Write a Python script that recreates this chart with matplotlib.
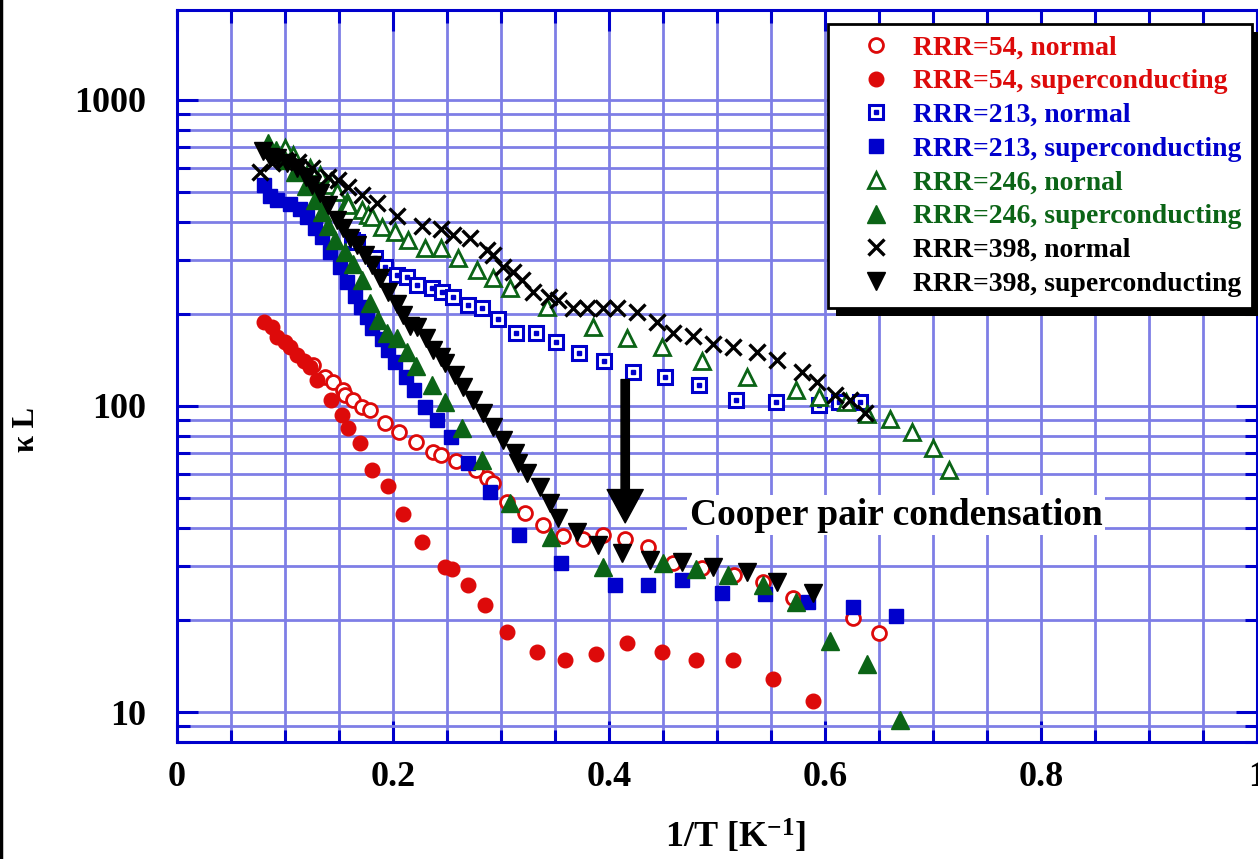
import matplotlib
matplotlib.use('Agg')
import matplotlib.pyplot as plt
from matplotlib.lines import Line2D
from matplotlib.patches import Rectangle
from matplotlib.ticker import MultipleLocator, LogLocator, FixedLocator, NullFormatter, FixedFormatter

plt.rcParams['font.family'] = 'Liberation Serif'
plt.rcParams['font.weight'] = 'bold'
plt.rcParams['mathtext.fontset'] = 'custom'
plt.rcParams['mathtext.rm'] = 'Liberation Serif:bold'
plt.rcParams['mathtext.bf'] = 'Liberation Serif:bold'
plt.rcParams['mathtext.default'] = 'bf'

# RRR=54
x54n = [0.126, 0.137, 0.144, 0.154, 0.156, 0.163, 0.171, 0.179, 0.193, 0.206, 0.221, 0.237, 0.244, 0.258, 0.277, 0.287,
        0.293, 0.306, 0.322, 0.339, 0.357, 0.376, 0.394, 0.415, 0.436, 0.459, 0.486, 0.516, 0.543, 0.570, 0.626, 0.650]
k54n = [136, 124, 120, 113, 109, 105, 99, 97, 88, 82, 76, 71, 69, 66, 62, 58,
        56, 48.5, 44.7, 40.8, 37.6, 36.7, 37.8, 36.7, 34.6, 30.7, 29.6, 28.1, 26.6, 23.6, 20.3, 18.1]
x54s = [0.081, 0.088, 0.093, 0.100, 0.105, 0.111, 0.118, 0.123, 0.130, 0.143, 0.153, 0.158, 0.169, 0.181, 0.195, 0.209,
        0.227, 0.248, 0.255, 0.269, 0.285, 0.306, 0.333, 0.359, 0.388, 0.417, 0.449, 0.481, 0.515, 0.552, 0.589]
k54s = [188, 181, 168, 162, 156, 147, 140, 134, 122, 105, 93.5, 84.8, 75.7, 61.8, 54.8, 44.4,
        35.9, 29.8, 29.3, 26.0, 22.4, 18.2, 15.7, 14.8, 15.5, 16.8, 15.7, 14.8, 14.8, 12.8, 10.9]

# RRR=213
x213n = [0.162, 0.167, 0.183, 0.193, 0.204, 0.213, 0.222, 0.236, 0.245, 0.256, 0.269, 0.282, 0.297, 0.314, 0.332, 0.351,
         0.372, 0.395, 0.422, 0.452, 0.483, 0.518, 0.555, 0.594, 0.613, 0.632]
k213n = [349, 343, 305, 285, 268, 264, 249, 243, 236, 227, 214, 209, 192, 173, 173, 162,
         149, 140, 129, 124, 117, 105, 103, 101, 103, 103]
x213s = [0.081, 0.086, 0.093, 0.105, 0.114, 0.120, 0.128, 0.134, 0.142, 0.151, 0.157, 0.165, 0.170, 0.176, 0.181, 0.190,
         0.195, 0.202, 0.212, 0.219, 0.230, 0.241, 0.254, 0.269, 0.290, 0.317, 0.356, 0.406, 0.436, 0.468, 0.505, 0.544,
         0.584, 0.626, 0.666]
k213s = [527, 485, 471, 457, 440, 415, 382, 357, 319, 285, 254, 229, 211, 195, 180, 166,
         152, 139, 124, 113, 99, 90, 79, 65, 52.4, 37.8, 30.7, 26.0, 26.0, 27.0, 24.5, 24.3,
         22.9, 22.0, 20.6]

# RRR=246
x246n = [0.100, 0.107, 0.123, 0.132, 0.142, 0.148, 0.157, 0.158, 0.171, 0.177, 0.181, 0.190, 0.202, 0.214, 0.230, 0.244,
         0.260, 0.278, 0.293, 0.308, 0.343, 0.385, 0.417, 0.449, 0.486, 0.528, 0.573, 0.594, 0.619, 0.639, 0.660, 0.681,
         0.700, 0.715]
k246n = [697, 661, 600, 569, 527, 500, 464, 454, 437, 421, 415, 385, 370, 349, 328, 328,
         305, 278, 262, 243, 211, 181, 167, 156, 140, 124, 113, 107, 103, 94, 91, 82,
         73, 62]
x246s = [0.084, 0.092, 0.100, 0.109, 0.119, 0.128, 0.134, 0.140, 0.146, 0.156, 0.163, 0.171, 0.179, 0.186, 0.194, 0.204,
         0.213, 0.221, 0.236, 0.248, 0.264, 0.282, 0.308, 0.346, 0.394, 0.450, 0.481, 0.510, 0.543, 0.573, 0.605, 0.639,
         0.669]
k246s = [723, 687, 637, 582, 523, 471, 431, 388, 349, 319, 291, 258, 217, 191, 173, 167,
         150, 135, 117, 103, 84.8, 66.7, 48.2, 37.3, 29.8, 30.7, 29.3, 28.1, 26.0, 22.9, 17.1, 14.3,
         9.4]

# RRR=398
x398n = [0.077, 0.088, 0.100, 0.112, 0.125, 0.140, 0.149, 0.158, 0.171, 0.185, 0.204, 0.227, 0.244, 0.256, 0.271, 0.287,
         0.293, 0.302, 0.311, 0.319, 0.330, 0.344, 0.353, 0.367, 0.380, 0.394, 0.407, 0.426, 0.444, 0.459, 0.478, 0.496,
         0.515, 0.537, 0.556, 0.579, 0.593, 0.609, 0.623, 0.637]
k398n = [582, 622, 637, 627, 600, 560, 548, 520, 490, 461, 418, 388, 379, 362, 354, 323,
         311, 285, 274, 258, 236, 227, 222, 209, 209, 209, 209, 203, 188, 173, 169, 160,
         156, 150, 141, 129, 120, 109, 105, 95]
x398s = [0.080, 0.086, 0.093, 0.102, 0.111, 0.119, 0.125, 0.132, 0.140, 0.148, 0.154, 0.160, 0.167, 0.174, 0.181, 0.188,
         0.195, 0.204, 0.209, 0.216, 0.222, 0.231, 0.237, 0.244, 0.248, 0.257, 0.265, 0.274, 0.283, 0.293, 0.302, 0.313,
         0.316, 0.324, 0.336, 0.345, 0.353, 0.370, 0.390, 0.412, 0.438, 0.468, 0.496, 0.528, 0.556, 0.589]
k398s = [681, 651, 646, 622, 600, 560, 527, 497, 454, 405, 382, 354, 336, 311, 289, 262,
         236, 215, 198, 183, 181, 167, 152, 145, 138, 126, 115, 105, 95, 85.4, 77.4, 70.2,
         65.2, 60.4, 54.3, 48.2, 43.1, 38.7, 35.2, 33.1, 31.4, 30.9, 29.8, 28.7, 26.6, 24.5]

red = '#dd0a0a'
blue = '#0000cc'
green = '#0b6416'
gridc = '#7e7ee6'

fig = plt.figure(figsize=(12.58, 8.59), dpi=100)
ax = fig.add_axes([177 / 1258, 117 / 859, 1080 / 1258, 732 / 859])
ax.set_yscale('log')
ax.set_xlim(0, 1)
ax.set_ylim(7.98, 1968)

h1, = ax.plot(x54n, k54n, 'o', ms=10, mfc='white', mec=red, mew=2, ls='none')
h2, = ax.plot(x54s, k54s, 'o', ms=10.5, mfc=red, mec=red, ls='none')
h3a, = ax.plot(x213n, k213n, 's', ms=10.5, mfc='white', mec=blue, mew=2.2, ls='none')
h3b, = ax.plot(x213n, k213n, 's', ms=2.8, mfc=blue, mec=blue, ls='none')
h4, = ax.plot(x213s, k213s, 's', ms=10.5, mfc=blue, mec=blue, ls='none')
h5, = ax.plot(x246n, k246n, '^', ms=11, mfc='white', mec=green, mew=2, ls='none')
h6, = ax.plot(x246s, k246s, '^', ms=13, mfc=green, mec=green, ls='none')
h7, = ax.plot(x398n, k398n, 'x', ms=11, mec='black', mew=2.4, ls='none')
h8, = ax.plot(x398s, k398s, 'v', ms=13, mfc='black', mec='black', ls='none')

# axes styling
for s in ax.spines.values():
    s.set_color('#0000cc')
    s.set_linewidth(2.2)
ax.xaxis.set_major_locator(FixedLocator([0, 0.2, 0.4, 0.6, 0.8, 1.0]))
ax.xaxis.set_major_formatter(FixedFormatter(['0', '0.2', '0.4', '0.6', '0.8', '1']))
ax.xaxis.set_minor_locator(MultipleLocator(0.05))
ax.yaxis.set_major_locator(FixedLocator([10, 100, 1000]))
ax.yaxis.set_major_formatter(FixedFormatter(['10', '100', '1000']))
ax.yaxis.set_minor_locator(LogLocator(base=10, subs=[2, 3, 4, 5, 6, 7, 8, 9]))
ax.yaxis.set_minor_formatter(NullFormatter())
ax.tick_params(which='both', direction='in', color='#0000cc', top=True, right=True, labelsize=26)
ax.tick_params(which='major', length=15, width=2.2)
ax.tick_params(which='minor', length=9, width=2.2)
ax.tick_params(axis='x', pad=14)
ax.tick_params(axis='y', pad=22)
ax.grid(True, which='both', color=gridc, lw=2)
ax.set_axisbelow(True)

ax.set_xlabel('1/T [K$^{-1}$]', fontsize=26, fontweight='bold')
ax.xaxis.set_label_coords(0.517, -0.104)
fig.text(27 / 1258, 1 - 430 / 859, 'κ L', rotation=90, ha='center', va='center', fontsize=22, fontweight='bold')

# annotation
ax.annotate('', xy=(0.415, 41.5), xytext=(0.415, 122),
            arrowprops=dict(facecolor='black', edgecolor='black', width=6, headwidth=26, headlength=24))
ax.text(0.666, 44.0, 'Cooper pair condensation', fontsize=27, fontweight='bold', ha='center', va='center',
        bbox=dict(facecolor='white', edgecolor='none', pad=2))

handles = [h1, h2, (h3a, h3b), h4, h5, h6, h7, h8]
labels = ['RRR=54, normal', 'RRR=54, superconducting', 'RRR=213, normal', 'RRR=213, superconducting',
          'RRR=246, nornal', 'RRR=246, superconducting', 'RRR=398, normal', 'RRR=398, superconducting']
colors = [red, red, blue, blue, green, green, 'black', 'black']
leg = ax.legend(handles, labels, loc='upper right', bbox_to_anchor=(0.9954, 0.981), borderaxespad=0,
                prop={'family': 'Liberation Serif', 'weight': 'bold', 'size': 20}, numpoints=1,
                handlelength=2.65, handletextpad=0, labelspacing=0.3, borderpad=0.4,
                fancybox=False, framealpha=1, edgecolor='black')
leg.get_frame().set_linewidth(2)
for t, c in zip(leg.get_texts(), colors):
    t.set_color(c)

# shadow of the legend box
fig.canvas.draw()
bb = leg.get_window_extent()
ax.add_patch(Rectangle((bb.x0 + 8, bb.y0 - 8), bb.width, bb.height, transform=None,
                       facecolor='black', edgecolor='none', zorder=4.9, clip_on=False))

fig.add_artist(Line2D([0.001, 0.001], [0, 1], color='black', lw=2.5))

fig.savefig('out.png', dpi=100)
